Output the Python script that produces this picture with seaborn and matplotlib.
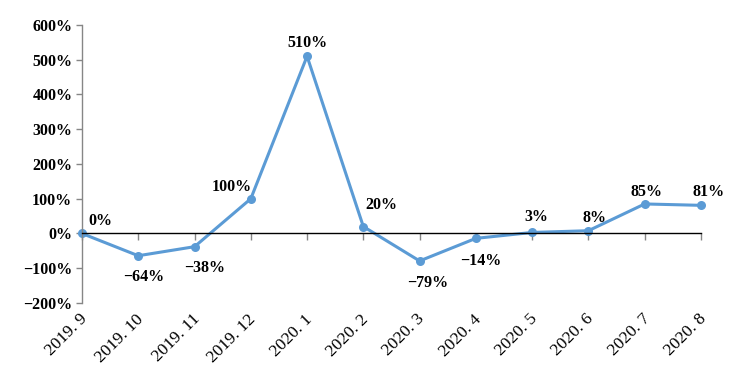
import numpy as np
import seaborn as sns
import matplotlib.pyplot as plt
from matplotlib import transforms

months = ['2019. 9', '2019. 10', '2019. 11', '2019. 12', '2020. 1', '2020. 2',
          '2020. 3', '2020. 4', '2020. 5', '2020. 6', '2020. 7', '2020. 8']
growth = [0, -64, -38, 100, 510, 20, -79, -14, 3, 8, 85, 81]
y_ticks = [-200, -100, 0, 100, 200, 300, 400, 500, 600]

# label offsets in pixels (dx, dy) relative to each point
label_offsets = [(18, 12), (5, -21), (10, -21), (-19, 12), (0, 13), (18, 22),
                 (8, -22), (5, -23), (4, 15), (6, 13), (2, 12), (8, 13)]

sns.set_style('white')
plt.rcParams['font.family'] = ['Liberation Serif', 'DejaVu Serif']
plt.rcParams['axes.unicode_minus'] = True
plt.rcParams['text.color'] = 'black'

fig = plt.figure(figsize=(7.48, 3.73), dpi=100)
ax = fig.add_axes([0.1096, 0.1877, 0.8275, 0.7453])

x = np.arange(len(months))
sns.lineplot(x=x, y=growth, ax=ax, color='#5B9BD5', linewidth=2.2,
             marker='o', markersize=6.5, markeredgewidth=0, clip_on=False)

ax.set_xlim(0, len(months) - 1)
ax.set_ylim(-200, 600)
ax.set_yticks(y_ticks)
ax.set_yticklabels([f'{v}%'.replace('-', '\u2212') for v in y_ticks],
                   fontsize=11.5, fontweight='bold', color='black')

for s in ['top', 'right']:
    ax.spines[s].set_visible(False)
ax.spines['left'].set_color('#868686')
ax.spines['left'].set_linewidth(1.0)
ax.spines['bottom'].set_position(('data', 0))
ax.spines['bottom'].set_color('black')
ax.spines['bottom'].set_linewidth(1.0)

ax.tick_params(axis='y', left=True, direction='out', length=4, width=1,
               color='#868686', pad=3)
ax.tick_params(axis='x', bottom=True, direction='out', length=5, width=1,
               color='#868686')
ax.set_xticks(x)
ax.set_xticklabels([])

trans = transforms.blended_transform_factory(ax.transData, ax.transAxes)
for xi, lab in zip(x, months):
    ax.text(xi + 0.05, -0.05, lab, transform=trans, rotation=45, ha='right',
            va='center', rotation_mode='anchor', fontsize=12.5, color='black')

for xi, v, (dx, dy) in zip(x, growth, label_offsets):
    ax.annotate(f'{v}%'.replace('-', '\u2212'), (xi, v), xytext=(dx, dy),
                textcoords='offset pixels', ha='center', va='center',
                fontsize=11.5, fontweight='bold', color='black')

ax.set_xlabel('')
ax.set_ylabel('')
ax.grid(False)

plt.savefig('out.png', dpi=100)
